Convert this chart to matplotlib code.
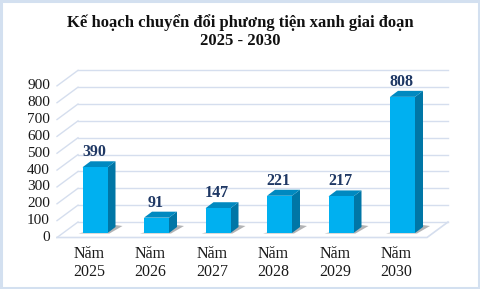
import matplotlib
matplotlib.use("Agg")
import matplotlib.pyplot as plt
from matplotlib.patches import Polygon, Rectangle
import numpy as np

# ---- data ----
categories = ["Năm\n2025", "Năm\n2026", "Năm\n2027", "Năm\n2028", "Năm\n2029", "Năm\n2030"]
values = [390, 91, 147, 221, 217, 808]
yticks = [0, 100, 200, 300, 400, 500, 600, 700, 800, 900]
title = "Kế hoạch chuyển đổi phương tiện xanh giai đoạn\n2025 - 2030"

# ---- style ----
W, H = 480, 289
DPI = 100
serif = ["Liberation Serif", "DejaVu Serif"]
front_c = "#00b0f0"
side_c = "#0076a6"
top_c = "#0089c0"
grid_c = "#d5deee"
label_c = "#1f3864"

fig = plt.figure(figsize=(W / DPI, H / DPI), dpi=DPI)
fig.patch.set_facecolor("white")
fig.add_artist(Rectangle((0.003, 0.005), 0.994, 0.99, transform=fig.transFigure,
                         fill=False, edgecolor="#d3e0f0", linewidth=2.2))

px_left, px_right = 50, 452
px_top, px_bottom = 60, 245
ax = fig.add_axes([px_left / W, (H - px_bottom) / H, (px_right - px_left) / W, (px_bottom - px_top) / H])
ax.set_axis_off()

x0_px, step_px = 95.0, 61.5
base_px, scale_px = 233.0, 0.1685
ax.set_xlim((px_left - x0_px) / step_px, (px_right - x0_px) / step_px)
ax.set_ylim((base_px - px_bottom) / scale_px, (base_px - px_top) / scale_px)

def ux(p):
    return p / step_px

def uy(p):
    return p / scale_px

bar_w = ux(25)
ddx, ddy = ux(8), uy(6)
back_dy = uy(11)
wall_l, wall_r = ux(78 - x0_px), ux(448 - x0_px)
front_l, front_r = ux(57 - x0_px), ux(427 - x0_px)
front_dy = uy(-4.5)

for t in yticks:
    ax.plot([wall_l, wall_r], [t + back_dy, t + back_dy], color=grid_c, lw=1.0, zorder=1)
    ax.plot([front_l, wall_l], [t + front_dy, t + back_dy], color=grid_c, lw=1.0, zorder=1)
ax.plot([front_l, front_r, wall_r], [front_dy, front_dy, back_dy], color=grid_c, lw=1.2, zorder=1)

for t in yticks:
    ax.text(ux(50 - x0_px), t + front_dy, str(t), ha="right", va="center",
            family=serif, fontsize=11, color="#1a1a1a")

xs = np.arange(len(values))
for x in xs:
    l, r = x - bar_w / 2, x + bar_w / 2
    sh = Polygon([(l - ux(4), uy(-0.5)), (r + ux(2), uy(-0.5)),
                  (r + ddx + ux(7), ddy + uy(1)), (r + ddx, ddy + uy(2))],
                 closed=True, facecolor="#55585c", edgecolor="none", alpha=0.45, zorder=2)
    ax.add_patch(sh)

ax.bar(xs, values, width=bar_w, color=front_c, edgecolor="none", zorder=4)
for x, v in zip(xs, values):
    l, r = x - bar_w / 2, x + bar_w / 2
    ax.add_patch(Polygon([(r, 0), (r + ddx, ddy), (r + ddx, v + ddy), (r, v)],
                         closed=True, facecolor=side_c, edgecolor="none", zorder=3))
    ax.add_patch(Polygon([(l, v), (r, v), (r + ddx, v + ddy), (l + ddx, v + ddy)],
                         closed=True, facecolor=top_c, edgecolor="none", zorder=3))
    ax.text(x - ux(1), v + ddy + uy(1), str(v), ha="center", va="bottom",
            family=serif, fontsize=11.5, fontweight="bold", color=label_c)

for x, c in zip(xs, categories):
    ax.text(x - ux(6), uy(-13), c, ha="center", va="top", family=serif,
            fontsize=11.5, color="#1a1a1a", linespacing=1.15)

fig.text(0.5, 1 - 14 / H, title, ha="center", va="top", family=serif,
         fontsize=12, fontweight="bold", color="#111111", linespacing=1.2)

fig.savefig("out.png", dpi=DPI)
